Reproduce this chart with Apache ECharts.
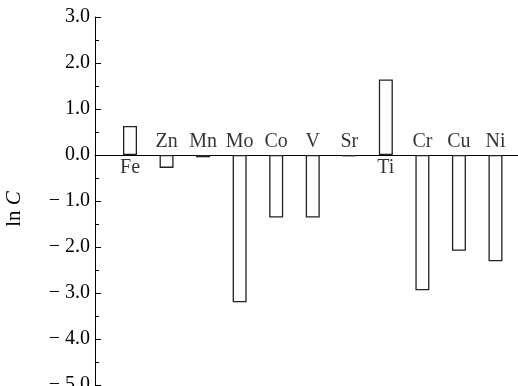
<!DOCTYPE html>
<html>
<head>
<meta charset="utf-8">
<script src="https://cdn.jsdelivr.net/npm/echarts@6/dist/echarts.min.js"></script>
<style>html,body{margin:0;padding:0;background:#fff}#c{width:518px;height:386px}</style>
</head>
<body>
<div id="c"></div>
<script>
const categories = ['Fe','Zn','Mn','Mo','Co','V','Sr','Ti','Cr','Cu','Ni'];
const values = [0.63, -0.28, -0.05, -3.2, -1.36, -1.36, -0.03, 1.64, -2.94, -2.08, -2.31];
const yTicks = [-5, -4, -3, -2, -1, 0, 1, 2, 3];

const font = '"Liberation Serif","Times New Roman",serif';
const chart = echarts.init(document.getElementById('c'));
const barData = values.map((v, i) => [i, v]);
const labelData = values.map((v, i) => ({
  value: [i, 0],
  label: { position: v >= 0 ? 'bottom' : 'top', formatter: categories[i] }
}));
chart.setOption({
  animation: false,
  grid: { left: 95, right: 0, top: 17, bottom: 1, containLabel: false, outerBoundsMode: 'none' },
  xAxis: {
    type: 'value', min: -0.958, max: 10.616,
    axisLine: { show: true, onZero: true, lineStyle: { color: '#000', width: 1 } },
    axisTick: { show: false }, axisLabel: { show: false }, splitLine: { show: false }
  },
  yAxis: {
    type: 'value', min: yTicks[0], max: yTicks[yTicks.length - 1], interval: 1,
    name: '{a|ln }{b|C}', nameLocation: 'middle', nameGap: 70, nameRotate: 90,
    nameTextStyle: { rich: {
      a: { fontFamily: font, fontSize: 21, color: '#000' },
      b: { fontFamily: font, fontSize: 21, fontStyle: 'italic', color: '#000', padding: [0, 16, 0, 0] }
    } },
    axisLine: { show: true, onZero: false, lineStyle: { color: '#000', width: 1 } },
    axisTick: { show: true, inside: true, length: 6, lineStyle: { color: '#000' } },
    minorTick: { show: true, splitNumber: 2, length: 4, lineStyle: { color: '#000' } },
    splitLine: { show: false },
    axisLabel: {
      margin: 5, fontFamily: font, fontSize: 20, color: '#000',
      formatter: v => (v < 0 ? '\u2212 ' : '') + Math.abs(v).toFixed(1)
    }
  },
  series: [
    {
      type: 'bar', data: barData, barWidth: 14,
      itemStyle: { color: '#fff', borderColor: '#222', borderWidth: 1.3 }
    },
    {
      type: 'scatter', data: labelData, symbolSize: 0, silent: true,
      label: { show: true, distance: 3, fontFamily: font, fontSize: 20, color: '#000' },
      z: 5
    }
  ]
});
</script>
</body>
</html>
